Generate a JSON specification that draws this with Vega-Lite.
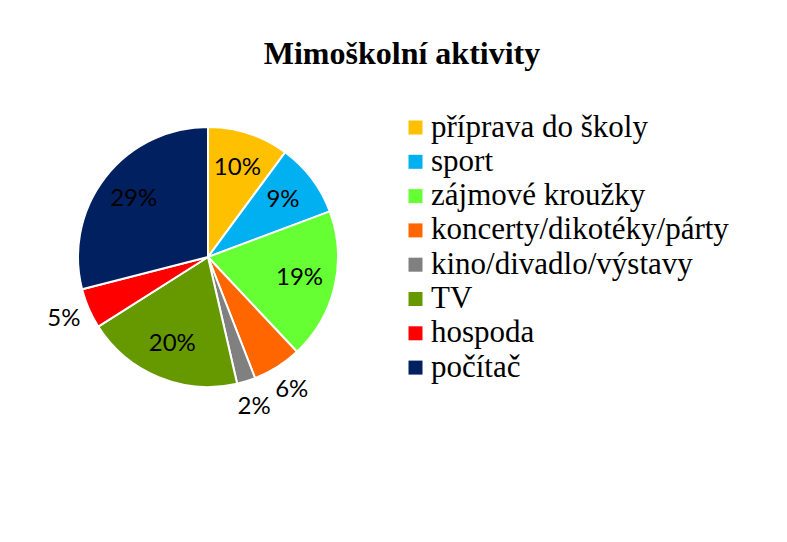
{
  "$schema": "https://vega.github.io/schema/vega-lite/v6.json",
  "width": 260,
  "height": 260,
  "autosize": {"type": "none"},
  "padding": {"left": 78, "top": 127, "right": 449, "bottom": 155},
  "background": "white",
  "title": {
    "text": "Mimoškolní aktivity",
    "font": "Liberation Serif",
    "fontSize": 32,
    "fontWeight": "bold",
    "color": "black",
    "anchor": "middle",
    "dx": 194,
    "dy": 20,
    "offset": 45
  },
  "data": {
    "values": [
      {"i": 1, "activity": "příprava do školy", "value": 10.1, "label": "10%"},
      {"i": 2, "activity": "sport", "value": 9.2, "label": "9%"},
      {"i": 3, "activity": "zájmové kroužky", "value": 18.7, "label": "19%"},
      {"i": 4, "activity": "koncerty/dikotéky/párty", "value": 6.1, "label": "6%"},
      {"i": 5, "activity": "kino/divadlo/výstavy", "value": 2.3, "label": "2%"},
      {"i": 6, "activity": "TV", "value": 19.6, "label": "20%"},
      {"i": 7, "activity": "hospoda", "value": 5.0, "label": "5%"},
      {"i": 8, "activity": "počítač", "value": 29.0, "label": "29%"}
    ]
  },
  "encoding": {
    "theta": {"field": "value", "type": "quantitative", "stack": true},
    "order": {"field": "i", "type": "quantitative"},
    "color": {
      "field": "activity",
      "type": "nominal",
      "sort": null,
      "scale": {
        "domain": ["příprava do školy", "sport", "zájmové kroužky", "koncerty/dikotéky/párty", "kino/divadlo/výstavy", "TV", "hospoda", "počítač"],
        "range": ["#FFC000", "#00B0F0", "#66FF33", "#FF6600", "#808080", "#669900", "#FF0000", "#002060"]
      },
      "legend": {
        "title": null,
        "orient": "none",
        "legendX": 322,
        "legendY": -15,
        "symbolType": "square",
        "symbolSize": 196,
        "symbolStrokeWidth": 0,
        "labelFont": "Liberation Serif",
        "labelFontSize": 31,
        "labelColor": "black",
        "labelOffset": 0,
        "rowPadding": 2.3,
        "labelLimit": 400
      }
    }
  },
  "layer": [
    {
      "mark": {"type": "arc", "radius": 130, "stroke": "white", "strokeWidth": 2}
    },
    {
      "mark": {"type": "text", "font": "Lato", "fontSize": 24, "radius": 94},
      "encoding": {
        "text": {"condition": {"test": "datum.value >= 7", "field": "label"}, "value": ""},
        "color": {"value": "black"}
      }
    },
    {
      "mark": {"type": "text", "font": "Lato", "fontSize": 24, "radius": 157},
      "encoding": {
        "text": {"condition": {"test": "datum.value < 7", "field": "label"}, "value": ""},
        "color": {"value": "black"}
      }
    }
  ],
  "config": {
    "view": {"stroke": null}
  }
}
